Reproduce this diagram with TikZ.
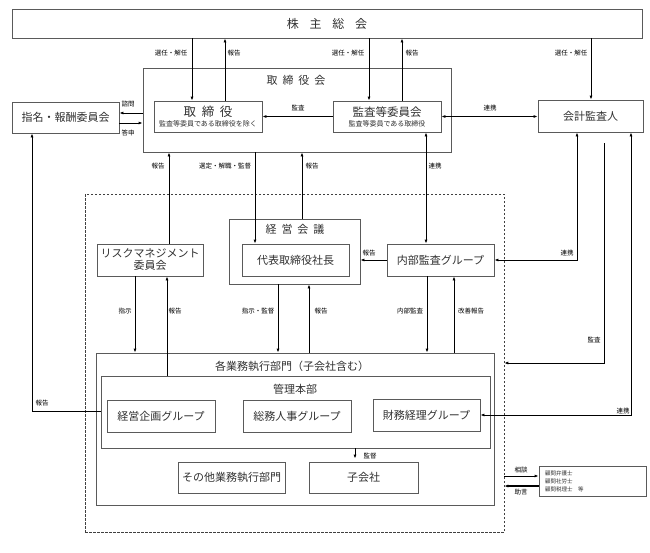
\documentclass[tikz,border=0pt]{standalone}
\usepackage{fontspec}
\setmainfont{Noto Sans CJK JP}
\usetikzlibrary{arrows.meta}
\definecolor{boxgray}{HTML}{5A5A5A}
\definecolor{txtgray}{HTML}{303030}
\newcommand{\jsp}{\hspace{0.45em}}

\begin{document}
\begin{tikzpicture}[x=1pt, y=-1pt,
    box/.style={draw=boxgray, line width=0.8pt, rectangle, inner sep=0pt, text=txtgray, font=\fontsize{11}{12}\selectfont, align=center},
    dashbox/.style={draw=black!75, dash pattern=on 2.5pt off 1.5pt, line width=0.6pt, inner sep=0pt},
    ttl/.style={text=txtgray, font=\fontsize{11}{12}\selectfont, inner sep=0pt},
    lbl/.style={text=black, font=\fontsize{6.5}{7}\selectfont, inner sep=0.5pt},
    arr/.style={-{Latex[length=4pt,width=3pt]}, line width=0.8pt},
    arrr/.style={{Latex[length=4pt,width=3pt]}-{Latex[length=4pt,width=3pt]}, line width=0.8pt}]
  \useasboundingbox (0,0) rectangle (650,552);

  % boxes
  \node[box, minimum width=630, minimum height=29, font=\fontsize{12}{13}\selectfont] (kabunushi) at (327,23.5) {株\jsp\jsp 主\jsp\jsp 総\jsp\jsp 会};
  \node[box, minimum width=308, minimum height=84] (torikai) at (297,110) {};
  \node[ttl] (torikaiT) at (296,80) {取\jsp 締\jsp 役\jsp 会};
  \node[box, minimum width=108, minimum height=31] (torishimari) at (208,116.5)
    {{\fontsize{12.5}{14}\selectfont 取\jsp 締\jsp 役}\\[-2pt]{\fontsize{7}{8}\selectfont 監査等委員である取締役を除く}};
  \node[box, minimum width=108, minimum height=31] (kansa) at (387,116.5)
    {{\fontsize{11.5}{13}\selectfont 監査等委員会}\\[-2pt]{\fontsize{7}{8}\selectfont 監査等委員である取締役}};
  \node[box, minimum width=105, minimum height=32] (kaikei) at (590.5,116) {会計監査人};
  \node[box, minimum width=107, minimum height=31] (shimei) at (65.5,117.5) {指名・報酬委員会};

  \node[dashbox, minimum width=419, minimum height=338] (shikko) at (294.5,363) {};
  \node[box, minimum width=131, minimum height=65] (keiei) at (294.5,251.5) {};
  \node[ttl] (keieiT) at (295,229) {経\jsp 営\jsp 会\jsp 議};
  \node[box, minimum width=107, minimum height=32] (daihyo) at (295.5,260) {代表取締役社長};
  \node[box, minimum width=106, minimum height=32] (risk) at (150,260) {リスクマネジメント\\委員会};
  \node[box, minimum width=107, minimum height=32] (naibu) at (440.5,260) {内部監査グループ};

  \node[box, minimum width=398, minimum height=152] (gyomu) at (295,429) {};
  \node[ttl] (gyomuT) at (292,366) {各業務執行部門（子会社含む）};
  \node[box, minimum width=389, minimum height=72] (kanri) at (295.5,412) {};
  \node[ttl] (kanriT) at (295,389) {管理本部};
  \node[box, minimum width=108, minimum height=32] (kikaku) at (161,416) {経営企画グループ};
  \node[box, minimum width=108, minimum height=32] (somu) at (297,416) {総務人事グループ};
  \node[box, minimum width=107, minimum height=32] (zaimu) at (426.5,415) {財務経理グループ};
  \node[box, minimum width=107, minimum height=31] (sonota) at (231.5,477.5) {その他業務執行部門};
  \node[box, minimum width=109, minimum height=31] (kogaisha) at (363.5,477.5) {子会社};
  \node[box, minimum height=30, text width=95, inner xsep=6pt, align=left, font=\fontsize{5.5}{8}\selectfont] (komon) at (592.5,481)
    {顧問弁護士\\顧問社労士\\顧問税理士　等};

  % columns and rows of the connectors
  \coordinate (cA) at (192,0);  \coordinate (cB) at (225,0);
  \coordinate (cC) at (369,0);  \coordinate (cD) at (402,0);
  \coordinate (cE) at (591,0);  \coordinate (cF) at (169,0);
  \coordinate (cG) at (255,0);  \coordinate (cH) at (302,0);
  \coordinate (cI) at (426,0);  \coordinate (cJ) at (135,0);
  \coordinate (cK) at (167,0);  \coordinate (cL) at (278,0);
  \coordinate (cM) at (309,0);  \coordinate (cN) at (427,0);
  \coordinate (cO) at (454,0);  \coordinate (cP) at (577,0);
  \coordinate (cR) at (631,0);  \coordinate (cS) at (32,0);
  \coordinate (cT) at (355,0);
  \coordinate (rA) at (0,113);  \coordinate (rB) at (0,123);
  \coordinate (rC) at (0,363);  \coordinate (rD) at (0,411);
  \coordinate (rE) at (0,476);  \coordinate (rF) at (0,486);
  \coordinate (q0) at (604,143);

  % 株主総会
  \draw[arr] (kabunushi.south -| cA) -- (torishimari.north -| cA);
  \draw[arr] (torishimari.north -| cB) -- (kabunushi.south -| cB);
  \draw[arr] (kabunushi.south -| cC) -- (kansa.north -| cC);
  \draw[arr] (kansa.north -| cD) -- (kabunushi.south -| cD);
  \draw[arr] (kabunushi.south -| cE) -- (kaikei.north -| cE);
  % 取締役会
  \draw[arr] (kansa.west) -- (torishimari.east);
  \draw[arrr] (kansa.east) -- (kaikei.west |- kansa.east);
  \draw[arr] (torikai.west |- rA) -- (shimei.east |- rA);
  \draw[arr] (shimei.east |- rB) -- (torikai.west |- rB);
  \draw[arr] (risk.north -| cF) -- (torikai.south -| cF);
  \draw[arr] (torikai.south -| cG) -- (daihyo.north -| cG);
  \draw[arr] (keiei.north -| cH) -- (torikai.south -| cH);
  \draw[arrr] (kansa.south -| cI) -- (naibu.north -| cI);
  % 会計監査人・内部監査
  \draw[arr] (naibu.west) -- (keiei.east |- naibu.west);
  \draw[arrr] (kaikei.south -| cP) |- (naibu.east);
  \draw[arr] (q0) |- (shikko.east |- rC);
  \draw[arrr] (kaikei.south -| cR) |- (zaimu.east);
  \draw[arr] (kanri.west |- rD) -| (shimei.south -| cS);
  % 各業務執行部門
  \draw[arr] (risk.south -| cJ) -- (gyomu.north -| cJ);
  \draw[arr] (kanri.north -| cK) -- (risk.south -| cK);
  \draw[arr] (keiei.south -| cL) -- (gyomu.north -| cL);
  \draw[arr] (gyomu.north -| cM) -- (keiei.south -| cM);
  \draw[arr] (naibu.south -| cN) -- (gyomu.north -| cN);
  \draw[arr] (gyomu.north -| cO) -- (naibu.south -| cO);
  \draw[arr, shorten >=3pt] (kanri.south -| cT) -- (kogaisha.north -| cT);
  % 顧問
  \draw[arr] (shikko.east |- rE) -- (komon.west |- rE);
  \draw[arr, line width=1.4pt] (komon.west |- rF) -- (shikko.east |- rF);

  % labels
  \node[lbl] (l1) at (171,53) {選任・解任};
  \node[lbl] (l2) at (234,53) {報告};
  \node[lbl] (l3) at (348,53) {選任・解任};
  \node[lbl] (l4) at (412,53) {報告};
  \node[lbl] (l5) at (571,53) {選任・解任};
  \node[lbl] (l6) at (298,108) {監査};
  \node[lbl] (l7) at (490,108) {連携};
  \node[lbl] (l8) at (128,104) {諮問};
  \node[lbl] (l9) at (128,133) {答申};
  \node[lbl] (l10) at (158,166) {報告};
  \node[lbl] (l11) at (225,166) {選定・解職・監督};
  \node[lbl] (l12) at (312,166) {報告};
  \node[lbl] (l13) at (435,166) {連携};
  \node[lbl] (l14) at (369,253) {報告};
  \node[lbl] (l15) at (567,253) {連携};
  \node[lbl] (l16) at (594,340) {監査};
  \node[lbl] (l17) at (623,411) {連携};
  \node[lbl] (l18) at (42,403) {報告};
  \node[lbl] (l19) at (125,311) {指示};
  \node[lbl] (l20) at (175,311) {報告};
  \node[lbl] (l21) at (258,311) {指示・監督};
  \node[lbl] (l22) at (321,311) {報告};
  \node[lbl] (l23) at (410,311) {内部監査};
  \node[lbl] (l24) at (471,311) {改善報告};
  \node[lbl] (l25) at (370,456) {監督};
  \node[lbl] (l26) at (521,470) {相談};
  \node[lbl] (l27) at (521,492) {助言};
\end{tikzpicture}
\end{document}
